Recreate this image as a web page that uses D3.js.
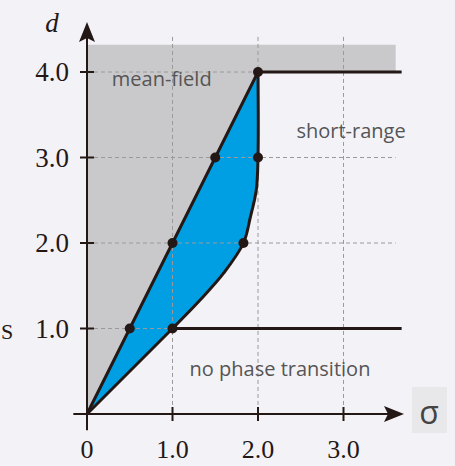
<!DOCTYPE html>
<html><head><meta charset="utf-8">
<script src="https://cdn.jsdelivr.net/npm/d3@7"></script>
<style>html,body{margin:0;padding:0;background:#f3f2f7;}svg{display:block;}</style>
</head><body>
<script>
// ---- data ----
const xTicks = [1.0, 2.0, 3.0];
const yTicks = [1.0, 2.0, 3.0, 4.0];
const xTickLabels = ["1.0", "2.0", "3.0"];
const yTickLabels = ["1.0", "2.0", "3.0", "4.0"];
// mean-field boundary d = 2σ
const upperLine = [[0,0],[0.5,1],[1,2],[1.5,3],[2,4]];
// short-range boundary (from (2,4) down to (1,1))
const lowerCurve = [[2,4],[2,3],[1.98,2.62],[1.91,2.3],[1.83,2],[1.6,1.65],[1.32,1.33],[1,1]];
const lowerLine = [[1,1],[0,0]];
const dotPoints = [[0.5,1],[1,2],[1.5,3],[2,4],[2,3],[1.83,2],[1,1]];
const horizontalBounds = [[2,4],[1,1]]; // lines to the right at d=4 (from σ=2) and d=1 (from σ=1)
const regionLabels = [
  {text:"mean-field", s:0.29, d:3.84},
  {text:"short-range", s:2.45, d:3.23},
  {text:"no phase transition", s:1.2, d:0.45}
];

const W=455, H=466;
const x = d3.scaleLinear().domain([0,3]).range([87,343.5]);
const y = d3.scaleLinear().domain([0,4]).range([414,72]);
const ink = "#231815";

const svg = d3.select("body").append("svg").attr("width",W).attr("height",H);
svg.append("rect").attr("width",W).attr("height",H).attr("fill","#f3f2f7");

const xMax = 3.61, yTop = 4.32, lineEnd = 3.68;

// gray mean-field region
const grayPoly = [[0,0],[0,yTop],[xMax,yTop],[xMax,4]].concat(upperLine.slice().reverse());
svg.append("path")
  .attr("d", d3.line().x(p=>x(p[0])).y(p=>y(p[1]))(grayPoly) + "Z")
  .attr("fill","#c9c9cb");

// blue region
const blueD = d3.line().x(p=>x(p[0])).y(p=>y(p[1]));
const curveGen = d3.line().x(p=>x(p[0])).y(p=>y(p[1])).curve(d3.curveCatmullRom.alpha(0.5));
const bluePath = blueD(upperLine) + curveGen(lowerCurve.slice(1)).replace(/^M/,"L") + blueD(lowerLine).replace(/^M/,"L") + "Z";
svg.append("path").attr("d", bluePath).attr("fill","#009fe3");

// grid
const grid = svg.append("g").attr("stroke","#9a9a9a").attr("stroke-width",1).attr("stroke-dasharray","4,3").attr("fill","none");
xTicks.forEach(t=>{
  grid.append("line").attr("x1",x(t)).attr("x2",x(t)).attr("y1",y(4.41)).attr("y2",y(0));
});
yTicks.forEach(t=>{
  const end = t===4 ? 2 : (t===1 ? 1 : xMax);
  grid.append("line").attr("x1",x(0)).attr("x2",x(end)).attr("y1",y(t)).attr("y2",y(t));
});

// boundary lines
const lines = svg.append("g").attr("stroke",ink).attr("stroke-width",3).attr("fill","none").attr("stroke-linejoin","round");
lines.append("path").attr("d", blueD(upperLine));
lines.append("path").attr("d", curveGen(lowerCurve));
lines.append("path").attr("d", blueD(lowerLine));
horizontalBounds.forEach(p=>{
  lines.append("line").attr("x1",x(p[0])).attr("x2",x(lineEnd)).attr("y1",y(p[1])).attr("y2",y(p[1]));
});

// dots
svg.append("g").selectAll("circle").data(dotPoints).join("circle")
  .attr("cx",p=>x(p[0])).attr("cy",p=>y(p[1])).attr("r",5).attr("fill",ink);

// axes
const ax = svg.append("g").attr("stroke",ink).attr("stroke-width",2);
ax.append("line").attr("x1",x(0)).attr("x2",x(0)).attr("y1",y(-0.19)).attr("y2",y(4.45));
ax.append("line").attr("x1",x(-0.16)).attr("x2",x(3.58)).attr("y1",y(0)).attr("y2",y(0));
// arrowheads
svg.append("path").attr("fill",ink)
  .attr("d",`M${x(0)},${y(0)-392} L${x(0)-8},${y(0)-372} L${x(0)},${y(0)-376} L${x(0)+8},${y(0)-372} Z`);
svg.append("path").attr("fill",ink)
  .attr("d",`M${x(0)+317},${y(0)} L${x(0)+297},${y(0)-8} L${x(0)+301},${y(0)} L${x(0)+297},${y(0)+8} Z`);

// ticks
yTicks.forEach(t=>{
  ax.append("line").attr("x1",x(0)-7).attr("x2",x(0)+7).attr("y1",y(t)).attr("y2",y(t));
});
xTicks.forEach(t=>{
  ax.append("line").attr("x1",x(t)).attr("x2",x(t)).attr("y1",y(0)-7).attr("y2",y(0)+7);
});

// tick labels
const serif = "'Liberation Serif','DejaVu Serif',serif";
svg.append("g").selectAll("text").data(yTicks).join("text")
  .attr("x",x(0)-18).attr("y",t=>y(t)+9).attr("text-anchor","end")
  .attr("font-family",serif).attr("font-size",27).attr("fill",ink)
  .text((t,i)=>yTickLabels[i]);
svg.append("g").selectAll("text").data([0].concat(xTicks)).join("text")
  .attr("x",t=>x(t)).attr("y",y(0)+44).attr("text-anchor","middle")
  .attr("font-family",serif).attr("font-size",26).attr("fill",ink)
  .text((t,i)=> i===0 ? "0" : xTickLabels[i-1]);

// axis titles
svg.append("text").attr("x",52).attr("y",32).attr("text-anchor","middle")
  .attr("font-family",serif).attr("font-style","italic").attr("font-size",27).attr("fill",ink).text("d");
svg.append("rect").attr("x",412).attr("y",387).attr("width",35).attr("height",46).attr("fill","#e8e8ea");
svg.append("text").attr("x",429).attr("y",424).attr("text-anchor","middle")
  .attr("font-family","'Open Sans',sans-serif").attr("font-size",32).attr("fill","#444").text("σ");

// glyph at left edge
svg.append("text").attr("x",1).attr("y",339)
  .attr("font-family",serif).attr("font-size",22).attr("fill",ink).text("S");

// region labels
svg.append("g").selectAll("text").data(regionLabels).join("text")
  .attr("x",dd=>x(dd.s)).attr("y",dd=>y(dd.d))
  .attr("font-family","'Open Sans',sans-serif").attr("font-size",20).attr("fill","#555")
  .text(dd=>dd.text);
</script>
</body></html>
